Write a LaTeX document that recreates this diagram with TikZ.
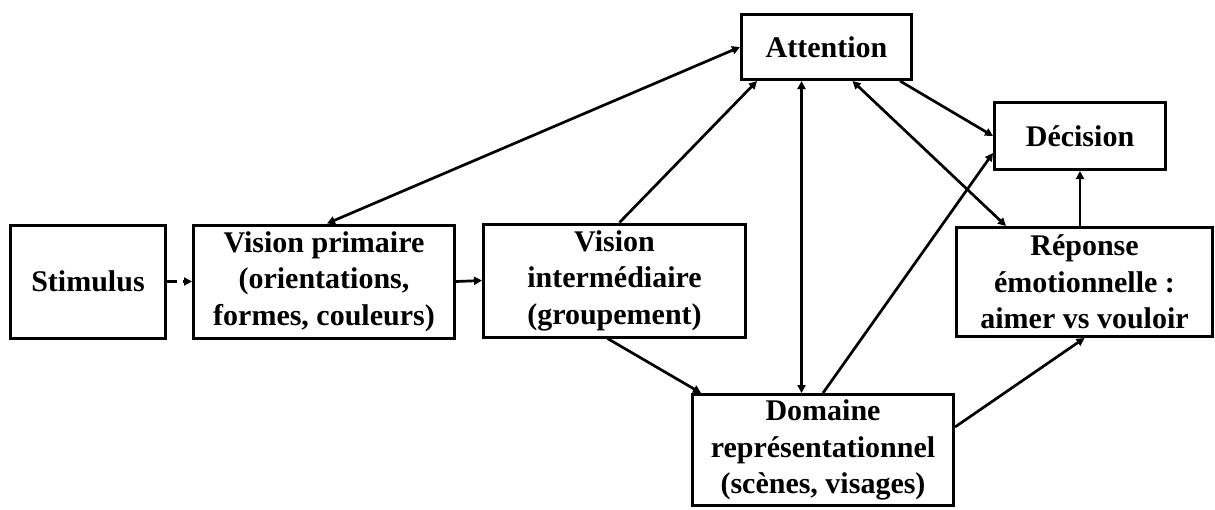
\documentclass[tikz,border=0pt]{standalone}
\usepackage{fontspec}
\setmainfont{Liberation Serif}
\usetikzlibrary{arrows.meta,calc}
\begin{document}
\begin{tikzpicture}[x=1pt,y=-1pt,
  box/.style={draw,line width=3pt,align=center,inner sep=0pt,
    font=\fontsize{30}{36.5}\selectfont\bfseries},
  conn/.style={line width=2.7pt,-{Triangle[length=8pt,width=8pt]}},
  biconn/.style={line width=2.7pt,{Triangle[length=8pt,width=8pt]}-{Triangle[length=8pt,width=8pt]}}]
\useasboundingbox (0,0) rectangle (1215,509);
\node[box,minimum width=155pt,minimum height=113pt] (stim) at (88,281.5) {Stimulus};
\node[box,minimum width=261pt,minimum height=113pt] (vp) at (324,281.5) {Vision primaire\\(orientations,\\formes, couleurs)};
\node[box,minimum width=262pt,minimum height=113pt] (vi) at (614.5,280.5) {Vision\\intermédiaire\\(groupement)};
\node[box,minimum width=170pt,minimum height=65pt] (att) at (826.5,47) {Attention};
\node[box,minimum width=171pt,minimum height=67pt] (dec) at (1080,136) {Décision};
\node[box,minimum width=256pt,minimum height=109pt] (rep) at (1084.5,282) {Réponse\\émotionnelle :\\aimer vs vouloir};
\node[box,minimum width=261pt,minimum height=111pt] (dom) at (823,450) {Domaine\\représentationnel\\(scènes, visages)};
% connectors
\draw[conn,dash pattern=on 10pt off 6pt] (stim.east) -- (vp.west);
\draw[conn] (vp.east) -- (vi.west);
\draw[biconn] (att.west) -- ([xshift=3pt]vp.north);
\draw[conn] ([xshift=5pt]vi.north) -- ([xshift=17pt]att.south west);
\draw[biconn] ([xshift=-25pt]att.south) -- ([xshift=-25pt]att.south |- dom.north);
\draw[conn] ([xshift=-13pt]att.south east) -- (dec.west);
\draw[biconn] ([xshift=26pt]att.south) -- ([xshift=51pt]rep.north west);
\draw[conn] (dom.north) -- ([yshift=-17pt]dec.west);
\draw[conn] (dec.south |- rep.north) -- (dec.south);
\draw[conn] ([xshift=-7pt]vi.south) -- ([xshift=10pt]dom.north west);
\draw[conn] ([yshift=23pt]dom.east) -- (rep.south);
\end{tikzpicture}
\end{document}
